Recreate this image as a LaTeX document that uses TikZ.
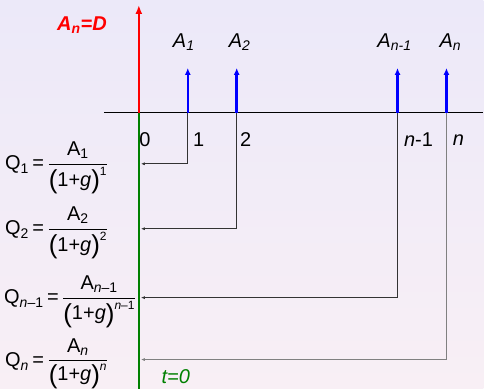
\documentclass[tikz,border=0pt]{standalone}
\usepackage{amsmath}
\usepackage{fontspec}
\setmainfont{Liberation Sans}
\usetikzlibrary{arrows.meta}
\definecolor{bgtop}{RGB}{236,233,249}
\definecolor{bgbot}{RGB}{248,239,245}
\definecolor{axgreen}{RGB}{0,128,0}
\newcommand{\bigpar}[1]{\raisebox{-2.5pt}{\fontsize{26}{26}\selectfont #1}}
\newcommand{\qfrac}[3]{$\displaystyle\text{Q}_{\text{#1}}\,\text{=}\,\frac{\text{A}_{\text{#2}}}{\text{\bigpar{(}1+\textit{g}\bigpar{)}}^{\text{\fontsize{12}{12}\selectfont #3}}}$}
\begin{document}
\begin{tikzpicture}[x=1pt, y=-1pt, every node/.style={font=\fontsize{20}{24}\selectfont, inner sep=1pt},
  cash/.style={blue, line width=2.5pt, -{Latex[length=7pt,width=6pt]}},
  link/.style={black!80, line width=0.8pt, -{Latex[length=4pt,width=3pt]}},
  qval/.style={anchor=west, font=\fontsize{20}{24}\selectfont}]
  \shade[top color=bgtop, bottom color=bgbot] (0,0) rectangle (484,389);
  \coordinate (o) at (139,113); \coordinate (axL) at (104,113); \coordinate (axR) at (484,113);
  \coordinate (top) at (139,5); \coordinate (bot) at (139,389);
  \foreach \n/\x in {1/188,2/237,3/398,4/447} \coordinate (t\n) at (\x,113);
  \foreach \n/\y in {1/164,2/229,3/298,4/360} \coordinate (q\n) at (141,\y);
  \draw[black, line width=1.2pt] (axL) -- (axR);
  \draw[axgreen, line width=1.8pt] (o) -- (bot);
  \draw[red, line width=2pt, -{Latex[length=9pt,width=7pt]}] (o) -- (top);
  \foreach \n in {1,2,3,4} \draw[cash] (t\n) -- ++(0,-45);
  \foreach \n in {1,2,3} \draw[link] (t\n) |- (q\n);
  \draw[link, gray, line width=1.2pt] (t4) |- (q4);
  % labels above the axis
  \node[red, font=\fontsize{20}{24}\selectfont\bfseries\itshape] (D) at (82,25) {A\textsubscript{n}=D};
  \node (a1) at (184,42) {\textit{A\textsubscript{1}}};
  \node (a2) at (240,42) {\textit{A\textsubscript{2}}};
  \node (a3) at (395,42) {\textit{A\textsubscript{n-1}}};
  \node (a4) at (451,42) {\textit{A\textsubscript{n}}};
  % labels under the axis
  \node (l0) at (145,140) {0};
  \node (l1) at (199,140) {1};
  \node (l2) at (246,140) {2};
  \node (l3) at (419,140) {\textit{n}-1};
  \node (l4) at (459,140) {\textit{n}};
  \node[axgreen, font=\fontsize{20}{24}\selectfont\itshape] (t0) at (176,377) {t=0};
  % discounted values
  \node[qval] (Q1) at (4,168) {\qfrac{1}{1}{1}};
  \node[qval] (Q2) at (4,233) {\qfrac{2}{2}{2}};
  \node[qval] (Q3) at (3,302) {\qfrac{\textit{n}–1}{\textit{n}–1}{\textit{n}–1}};
  \node[qval] (Q4) at (4,364) {\qfrac{\textit{n}}{\textit{n}}{\textit{n}}};
\end{tikzpicture}
\end{document}
